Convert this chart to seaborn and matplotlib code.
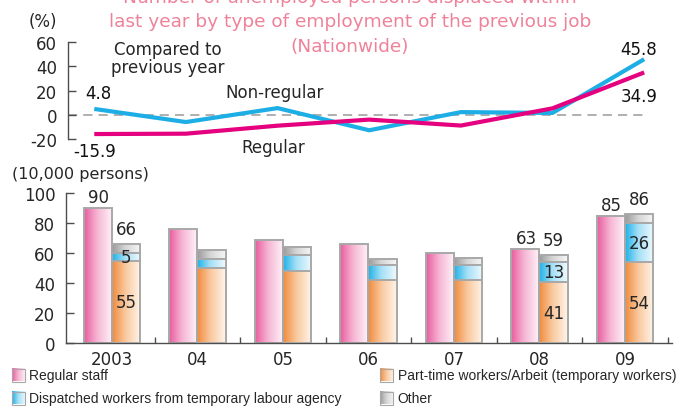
import numpy as np
import pandas as pd
import matplotlib
matplotlib.use('Agg')
import matplotlib.pyplot as plt
import seaborn as sns
from matplotlib.colors import LinearSegmentedColormap, to_hex
from matplotlib.patches import Rectangle

years = ['2003', '04', '05', '06', '07', '08', '09']
regular = [90, 76, 69, 66, 60, 63, 85]
part_time = [55, 50, 48, 42, 42, 41, 54]
dispatched = [5, 6, 11, 10, 10, 13, 26]
other = [6, 6, 5, 4, 5, 5, 6]
chg_nonregular = [4.8, -6.0, 5.5, -12.8, 2.2, 1.5, 45.8]
chg_regular = [-15.9, -15.6, -9.0, -4.0, -8.9, 5.3, 34.9]
labelled = [0, 5, 6]

title_lines = ['Number of unemployed persons displaced within',
               'last year by type of employment of the previous job',
               '(Nationwide)']

PINK_LINE = '#e4007f'
BLUE_LINE = '#1eaee6'
TITLE_PINK = '#ef8299'
EDGE = '#a8a8a8'
SPINE = '#4d4d4d'

# gradient colours: left -> right
grads = {
    '#e85c9e': ['#e85c9e', '#f6b4d3', '#fff6fa'],
    '#999999': ['#999999', '#d4d4d4', '#f7f7f7'],
    '#1cb0e8': ['#1cb0e8', '#a3dff6', '#f0fafe'],
    '#f08a3a': ['#f08a3a', '#f9c79c', '#fff6ec'],
}
layer = {'#e85c9e': 0, '#999999': 0, '#1cb0e8': 1, '#f08a3a': 2}

sns.set_theme(style='white')
plt.rcParams['font.family'] = ['DejaVu Sans']
plt.rcParams['axes.unicode_minus'] = False
LEGEND_FONT = ['Liberation Sans', 'DejaVu Sans']

fig = plt.figure(figsize=(6.81, 4.10), dpi=100)
ax_top = fig.add_axes([0.0994, 0.6585, 0.8492, 0.2366])
ax_bar = fig.add_axes([0.0965, 0.1602, 0.8903, 0.3659])
over = fig.add_axes([0, 0, 1, 1])
over.axis('off')

# ---- top panel: change on previous year ----
x = np.arange(len(years))
ax_top.axhline(0, color='#9a9a9a', lw=1.1, ls=(0, (6, 4)), zorder=0)
sns.lineplot(x=x, y=chg_nonregular, ax=ax_top, color=BLUE_LINE, lw=3,
             solid_capstyle='butt')
sns.lineplot(x=x, y=chg_regular, ax=ax_top, color=PINK_LINE, lw=3,
             solid_capstyle='butt')
ax_top.set_xlim(-0.29, 6.02)
ax_top.set_ylim(-20, 60)
ax_top.set_yticks([-20, 0, 20, 40, 60])
ax_top.set_xticks([])
for s in ['top', 'right', 'bottom']:
    ax_top.spines[s].set_visible(False)
ax_top.spines['left'].set_color(SPINE)
ax_top.spines['left'].set_linewidth(1)
ax_top.tick_params(axis='y', direction='in', length=6, width=1, color=SPINE,
                   labelsize=12, pad=7.5, left=True)

def pt_label(ax, i, vals, dx, dy):
    ax.annotate(f'{vals[i]:.1f}', (x[i], vals[i]), xytext=(dx, dy),
                textcoords='offset pixels', ha='center', va='center',
                fontsize=12, color='#111111')

pt_label(ax_top, 0, chg_nonregular, 4, 16)
pt_label(ax_top, 0, chg_regular, 0, -17)
pt_label(ax_top, 6, chg_nonregular, -6, 10)
pt_label(ax_top, 6, chg_regular, -5, -24)

# ---- bottom panel: bars ----
total = [p + d + o for p, d, o in zip(part_time, dispatched, other)]
part_disp = [p + d for p, d in zip(part_time, dispatched)]
hue_order = ['Regular', 'Non-regular']

df_base = pd.DataFrame({'year': years * 2,
                        'kind': ['Regular'] * 7 + ['Non-regular'] * 7,
                        'value': regular + total})
df_disp = pd.DataFrame({'year': years, 'kind': 'Non-regular', 'value': part_disp})
df_part = pd.DataFrame({'year': years, 'kind': 'Non-regular', 'value': part_time})

common = dict(x='year', y='value', hue='kind', hue_order=hue_order, order=years,
              dodge=True, width=0.66, gap=0, ax=ax_bar, legend=False,
              saturation=1, errorbar=None, edgecolor=EDGE, linewidth=1.4)
sns.barplot(data=df_base, palette={'Regular': '#e85c9e', 'Non-regular': '#999999'}, **common)
sns.barplot(data=df_disp, palette={'Regular': '#e85c9e', 'Non-regular': '#1cb0e8'}, **common)
sns.barplot(data=df_part, palette={'Regular': '#e85c9e', 'Non-regular': '#f08a3a'}, **common)

grad_img = np.linspace(0, 1, 256).reshape(1, -1)
cmaps = {k: LinearSegmentedColormap.from_list(k, [(0, v[0]), (0.45, v[1]), (1, v[2])])
         for k, v in grads.items()}
for p in list(ax_bar.patches):
    key = to_hex(p.get_facecolor())
    if key not in cmaps:
        continue
    x0, y0, w, h = p.get_x(), p.get_y(), p.get_width(), p.get_height()
    z = 2 * layer[key] + 1
    im = ax_bar.imshow(grad_img, extent=[x0, x0 + w, y0, y0 + h], cmap=cmaps[key],
                       aspect='auto', origin='lower', interpolation='bilinear', zorder=z)
    im.set_clip_path(p)
    p.set_facecolor('none')
    p.set_zorder(z + 0.5)

ax_bar.set_xlim(-0.54, 6.55)
ax_bar.set_ylim(0, 100)
ax_bar.set_yticks(range(0, 101, 20))
ax_bar.set_xticks(range(len(years)), years)
ax_bar.set_xticks(np.arange(0.5, 7, 1), minor=True)
ax_bar.set_xlabel('')
ax_bar.set_ylabel('')
for s in ['top', 'right']:
    ax_bar.spines[s].set_visible(False)
for s in ['left', 'bottom']:
    ax_bar.spines[s].set_color(SPINE)
    ax_bar.spines[s].set_linewidth(1)
ax_bar.tick_params(axis='y', direction='in', length=6, width=1, color=SPINE,
                   labelsize=12, pad=7.5, left=True)
ax_bar.tick_params(axis='x', which='major', length=0, labelsize=12, pad=5)
ax_bar.tick_params(axis='x', which='minor', direction='in', length=4, width=1,
                   color=SPINE, bottom=True)

w = 0.165
for i in labelled:
    ax_bar.annotate(str(regular[i]), (i - w, regular[i]), xytext=(1, 11),
                    textcoords='offset pixels', ha='center', va='center', fontsize=12)
    ax_bar.annotate(str(total[i]), (i + w, total[i]), xytext=(0, 15),
                    textcoords='offset pixels', ha='center', va='center', fontsize=12)
    ax_bar.text(i + w, part_time[i] / 2, str(part_time[i]), ha='center', va='center',
                fontsize=12, zorder=10)
    ax_bar.text(i + w, part_time[i] + dispatched[i] / 2, str(dispatched[i]),
                ha='center', va='center', fontsize=12, zorder=10)

# ---- overlay texts (pixel coords) ----
over.set_xlim(0, 681)
over.set_ylim(410, 0)
for yb, line in zip([3, 27.3, 52.3], title_lines):
    over.text(350, yb, line, ha='center', va='baseline', fontsize=13.3, color=TITLE_PINK)
over.text(42.5, 21.7, '(%)', ha='center', va='center', fontsize=12)
over.text(80, 175, '(10,000 persons)', ha='center', va='center', fontsize=11.5)
over.text(167.5, 59, 'Compared to\nprevious year', ha='center', va='center',
          fontsize=12, linespacing=1.05)
over.text(275, 93, 'Non-regular', ha='center', va='center', fontsize=12)
over.text(273, 148, 'Regular', ha='center', va='center', fontsize=12)

legend_items = [('Regular staff', '#e85c9e', 11.7, 376),
                ('Dispatched workers from temporary labour agency', '#1cb0e8', 11.7, 399),
                ('Part-time workers/Arbeit (temporary workers)', '#f08a3a', 380, 376),
                ('Other', '#999999', 380, 399)]
for label, key, lx, ly in legend_items:
    over.imshow(grad_img, extent=[lx, lx + 13.3, ly + 6.5, ly - 6.5], cmap=cmaps[key],
                aspect='auto', interpolation='bilinear')
    over.add_patch(Rectangle((lx, ly - 6.5), 13.3, 13, fill=False, ec=EDGE, lw=0.8))
    over.text(lx + 17.6, ly, label, ha='left', va='center', fontsize=10,
              family=LEGEND_FONT)
over.set_xlim(0, 681)
over.set_ylim(410, 0)

fig.savefig('out.png', dpi=100)
